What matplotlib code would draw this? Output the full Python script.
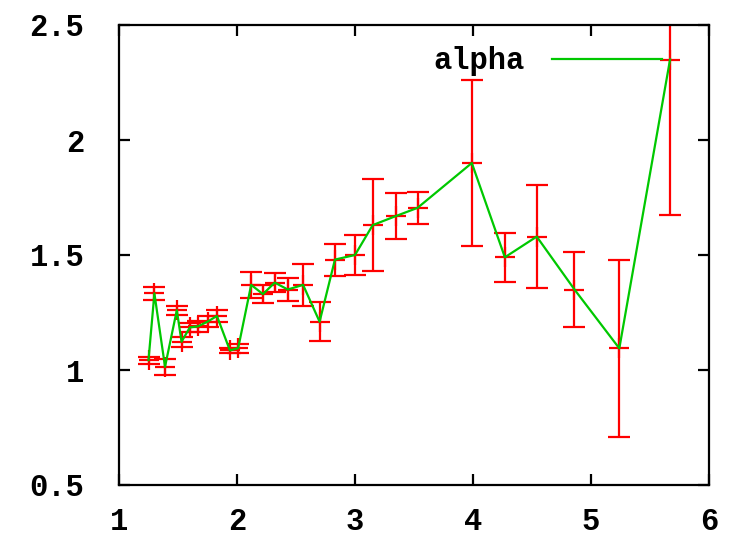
import matplotlib
matplotlib.use('Agg')
import matplotlib.pyplot as plt
import numpy as np

# alpha measurements with symmetric y errors
x = [1.25, 1.30, 1.39, 1.49, 1.53, 1.60, 1.67, 1.75, 1.83, 1.94, 2.01,
     2.12, 2.22, 2.32, 2.43, 2.56, 2.70, 2.83, 3.00, 3.15, 3.35, 3.53,
     3.99, 4.27, 4.54, 4.86, 5.24, 5.67]
alpha = [1.043, 1.333, 1.014, 1.26, 1.123, 1.185, 1.19, 1.21, 1.235, 1.085, 1.095,
         1.37, 1.33, 1.38, 1.35, 1.37, 1.21, 1.48, 1.50, 1.63, 1.67, 1.705,
         1.90, 1.49, 1.58, 1.35, 1.094, 2.35]
alpha_err = [0.015, 0.03, 0.035, 0.02, 0.022, 0.018, 0.025, 0.025, 0.025, 0.01, 0.02,
             0.055, 0.04, 0.04, 0.05, 0.09, 0.085, 0.07, 0.085, 0.20, 0.10, 0.07,
             0.36, 0.107, 0.225, 0.162, 0.384, 0.676]

xticks = [1, 2, 3, 4, 5, 6]
yticks = [0.5, 1.0, 1.5, 2.0, 2.5]
ytick_labels = ['0.5', '1', '1.5', '2', '2.5']

plt.rcParams['font.family'] = 'Liberation Mono'
plt.rcParams['font.weight'] = 'bold'

fig = plt.figure(figsize=(7.33, 5.39), dpi=100)
ax = fig.add_axes([119 / 733, 54 / 539, 590 / 733, 460 / 539])

ax.errorbar(x, alpha, yerr=alpha_err, fmt='+', color='#ff0000', ecolor='#ff0000',
            elinewidth=1.6, capsize=8, capthick=1.6, markersize=15, markeredgewidth=1.6,
            zorder=2)
ax.plot(x, alpha, color='#00c800', linewidth=1.6, label='alpha', zorder=3)

ax.set_xlim(1, 6)
ax.set_ylim(0.5, 2.5)
ax.set_xticks(xticks)
ax.set_xticklabels([str(t) for t in xticks])
ax.set_yticks(yticks)
ax.set_yticklabels(ytick_labels)

for s in ax.spines.values():
    s.set_linewidth(1.6)
ax.tick_params(direction='in', length=8, width=1.6, top=True, right=True,
               labelsize=22, pad=16)
ax.tick_params(axis='y', pad=25)

leg = ax.legend(loc='upper right', bbox_to_anchor=(0.956, 1.0), frameon=False,
                markerfirst=False, handlelength=3.6, handletextpad=0.9,
                fontsize=22, borderaxespad=0.3)

fig.savefig('out.png', dpi=100)
